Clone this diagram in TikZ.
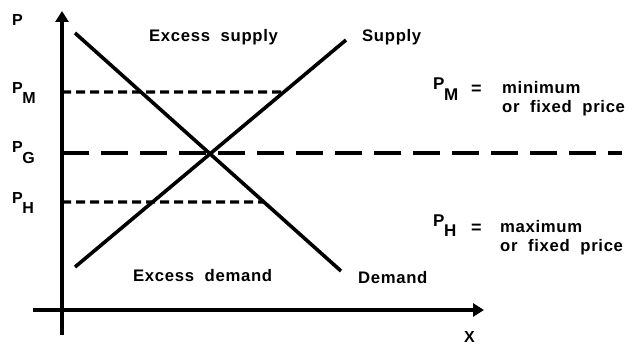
\documentclass[tikz,border=0pt]{standalone}
\usepackage{fontspec}
\setmainfont{Liberation Sans}
\newfontfamily\lblfont{Liberation Sans}[LetterSpace=4]
\usetikzlibrary{arrows.meta}
\tikzset{
  axis/.style={line width=3.6pt,-{Triangle[length=11pt,width=13pt]}},
  curve/.style={line width=3.6pt},
  pricedash/.style={line width=3.2pt,dash pattern=on 9pt off 5pt},
  eqdash/.style={line width=3.6pt,dash pattern=on 27pt off 12pt},
  lbl/.style={font=\lblfont\bfseries\fontsize{16.7}{18}\selectfont,inner sep=0pt,anchor=base west},
  plbl/.style={font=\bfseries\fontsize{16}{18}\selectfont,inner sep=0pt,anchor=base west},
  deflbl/.style={font=\lblfont\bfseries\fontsize{16.7}{19}\selectfont,inner sep=0pt,anchor=base west,align=left},
}
\newcommand{\psub}[1]{P\kern-0.5pt\raisebox{-10pt}{#1}}
\begin{document}
\begin{tikzpicture}[x=1pt,y=-1pt]
\useasboundingbox (0,0) rectangle (638,345);
% axes
\coordinate (ybot) at (62,335);
\coordinate (ytop) at (62,11);
\coordinate (xleft) at (33,310);
\coordinate (xright) at (484,310);
\draw[axis] (ybot) -- (ytop);
\draw[axis] (xleft) -- (xright);
% curves
\coordinate (d1) at (75,33);
\coordinate (d2) at (341,271);
\coordinate (s1) at (75,267);
\coordinate (s2) at (346,40);
\draw[curve] (d1) -- (d2);
\draw[curve] (s1) -- (s2);
% price lines
\coordinate (pmL) at (62,92);
\coordinate (pmR) at (intersection of 62,92--400,92 and s1--s2);
\coordinate (phL) at (62,202);
\coordinate (phR) at (intersection of 62,202--400,202 and d1--d2);
\coordinate (pgL) at (62,153);
\coordinate (pgR) at (622,153);
\draw[pricedash] (pmL) -- (pmR);
\draw[pricedash] (phL) -- (phR);
\draw[eqdash] (pgL) -- (pgR);
% axis labels
\node[plbl] (P) at (12,26) {P};
\node[plbl] (PM) at (12,94) {\psub{M}};
\node[plbl] (PG) at (12,153) {\psub{G}};
\node[plbl] (PH) at (12,203) {\psub{H}};
\node[plbl] (X) at (464,342) {X};
% region labels
\node[lbl] (es) at (149,42) {Excess\ \ supply};
\node[lbl] (sup) at (362,42) {Supply};
\node[lbl] (ed) at (133,281) {Excess\ \ demand};
\node[lbl] (dem) at (358,283) {Demand};
% definitions
\node[plbl,font=\bfseries\fontsize{17}{19}\selectfont] (PMr) at (433,90) {\psub{M}};
\node[plbl,font=\bfseries\fontsize{18}{19}\selectfont] (eq1) at (471,95) {=};
\node[deflbl] (def1) at (502,113) {minimum\\or\ \ fixed\ \ price};
\node[plbl,font=\bfseries\fontsize{17}{19}\selectfont] (PHr) at (433,226) {\psub{H}};
\node[plbl,font=\bfseries\fontsize{18}{19}\selectfont] (eq2) at (471,233) {=};
\node[deflbl] (def2) at (500,251) {maximum\\or\ \ fixed\ \ price};
\end{tikzpicture}
\end{document}
